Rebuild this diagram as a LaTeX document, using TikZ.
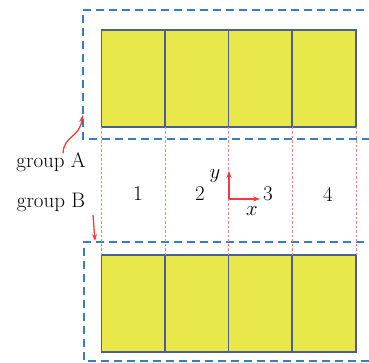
\documentclass[tikz,border=0pt]{standalone}
\usetikzlibrary{arrows.meta}
\definecolor{dashblue}{HTML}{3A7CC0}
\definecolor{cellfill}{HTML}{E8E84A}
\definecolor{celledge}{HTML}{4A6090}
\definecolor{myred}{HTML}{F03C3C}
\begin{document}
\begin{tikzpicture}[x=1pt,y=-1pt,
  grpbox/.style={draw=dashblue,line width=1.6pt,dash pattern=on 8pt off 5pt},
  cellbox/.style={draw=celledge,fill=cellfill,line width=1.6pt,minimum width=64pt,minimum height=97pt,inner sep=0pt,outer sep=0pt},
  guide/.style={draw=myred!65,line width=0.6pt,dash pattern=on 2.5pt off 2pt},
  redarr/.style={draw=myred,line width=1.3pt,-{Stealth[length=7pt,width=5pt]}},
  lab/.style={font=\fontsize{21}{24}\selectfont,inner sep=0pt}]
\useasboundingbox (0,0) rectangle (369,363);
\clip (0,0) rectangle (369,363);
% group boxes
\draw[grpbox] (390,10) -- (83,10) -- (83,139) -- (390,139);
\draw[grpbox] (390,242) -- (84,242) -- (84,361) -- (390,361);
% cells
\foreach \i/\x in {1/133.5,2/197,3/260.5,4/324}{
  \node[cellbox] (t\i) at (\x,78.5) {};
  \node[cellbox] (b\i) at (\x,303.5) {};
}
% guides
\foreach \i in {1,2,3,4}{
  \draw[guide] (t\i.south west) -- (b\i.north west);
}
\draw[guide] (t4.south east) -- (b4.north east);
% labels
\node[lab] (ga) at (51,162) {group A};
\node[lab] (gb) at (51,202) {group B};
\node[lab] (n1) at (138,194) {1};
\node[lab] (n2) at (200,194) {2};
\node[lab] (n3) at (268,194) {3};
\node[lab] (n4) at (328,194) {4};
\coordinate (o) at (229,199);
\coordinate (ay) at (229,171);
\coordinate (ax) at (260,199);
\draw[redarr,line width=1.1pt] (o) -- (ay);
\draw[redarr,line width=1.1pt] (o) -- (ax);
\node[lab] (ly) at (215,176) {$y$};
\node[lab] (lx) at (252,211) {$x$};
\coordinate (tipA) at (82.5,115);
\coordinate (tipB) at (95,241);
\draw[redarr] ([xshift=12pt,yshift=-1pt]ga.north) .. controls (64,135) and (80,138) .. (tipA);
\draw[redarr] (93,215) -- (tipB);
\end{tikzpicture}
\end{document}
